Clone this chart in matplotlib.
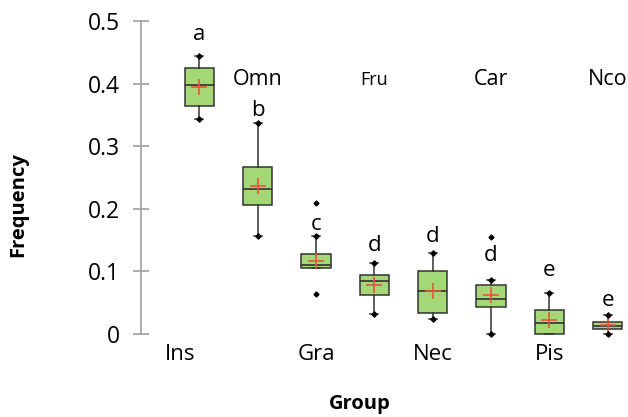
import matplotlib.pyplot as plt

plt.rcParams['font.family'] = ['Open Sans', 'DejaVu Sans']

groups = ['Ins', 'Omn', 'Gra', 'Fru', 'Nec', 'Car', 'Pis', 'Nco']
whislo = [0.343, 0.157, 0.105, 0.032, 0.024, 0.000, 0.000, 0.000]
q1 = [0.365, 0.206, 0.105, 0.063, 0.034, 0.043, 0.000, 0.0075]
med = [0.397, 0.232, 0.110, 0.084, 0.068, 0.056, 0.018, 0.013]
q3 = [0.425, 0.266, 0.128, 0.094, 0.101, 0.078, 0.039, 0.019]
whishi = [0.444, 0.337, 0.157, 0.114, 0.130, 0.087, 0.065, 0.031]
means = [0.395, 0.236, 0.117, 0.078, 0.069, 0.062, 0.022, 0.014]
fliers = [[], [], [0.210, 0.064], [], [], [0.155], [], []]
letters = ['a', 'b', 'c', 'd', 'd', 'd', 'e', 'e']
letter_y = [0.478, 0.357, 0.175, 0.141, 0.155, 0.125, 0.101, 0.053]

fig = plt.figure(figsize=(6.28, 4.17), dpi=100)
ax = fig.add_axes([141 / 628, 83 / 417, 487 / 628, 313 / 417])

stats = []
for i, g in enumerate(groups):
    stats.append(dict(label=g, whislo=whislo[i], q1=q1[i], med=med[i],
                      q3=q3[i], whishi=whishi[i], mean=means[i],
                      fliers=fliers[i]))

pos = list(range(1, len(groups) + 1))
bp = ax.bxp(stats, positions=pos, widths=0.5, patch_artist=True,
            showmeans=True, showfliers=True, capwidths=0.14,
            boxprops=dict(facecolor='#a4d877', edgecolor='#333333', linewidth=1.1),
            medianprops=dict(color='#333333', linewidth=1.2),
            whiskerprops=dict(color='#333333', linewidth=1.1),
            capprops=dict(color='#333333', linewidth=1.1),
            meanprops=dict(marker='+', markeredgecolor='#e8553a', markersize=11,
                           markeredgewidth=1.2),
            flierprops=dict(marker='D', markerfacecolor='black',
                            markeredgecolor='black', markersize=2.5))
for art in ax.get_children():
    art.set_clip_on(False)

# dots at whisker ends (Gra has no lower whisker)
dot_x = [p for i, p in enumerate(pos) if whislo[i] < q1[i]] + pos
dot_y = [w for i, w in enumerate(whislo) if w < q1[i]] + whishi
ax.scatter(dot_x, dot_y, marker='D', s=7, color='black', zorder=5, clip_on=False)

for x, t, y in zip(pos, letters, letter_y):
    ax.text(x, y, t, ha='center', va='center', fontsize=16)

# category labels, alternating below and above
for i, g in enumerate(groups):
    if i % 2 == 0:
        x = pos[i] - 0.33 if i == 0 else pos[i]
        ax.text(x, -0.032, g, ha='center', va='center', fontsize=16)
    else:
        fs = 13 if g == 'Fru' else 15.5
        ax.text(pos[i], 0.406, g, ha='center', va='center', fontsize=fs)

ax.set_xlim(0, 8.35)
ax.set_ylim(0, 0.5)
ax.set_yticks([0, 0.1, 0.2, 0.3, 0.4, 0.5])
ax.set_yticklabels(['0', '0.1', '0.2', '0.3', '0.4', '0.5'])
ax.tick_params(axis='y', direction='inout', length=12, width=1.3,
               color='#a6a6a6', labelsize=16.5, pad=9)
ax.set_xticks([])
for s in ['top', 'right', 'bottom']:
    ax.spines[s].set_visible(False)
ax.spines['left'].set_color('#a6a6a6')
ax.spines['left'].set_linewidth(1.3)

fig.text(18 / 628, 1 - 205 / 417, 'Frequency', rotation=90, ha='center',
         va='center', fontsize=14.5, fontweight='bold')
fig.text(360 / 628, 1 - 404 / 417, 'Group', ha='center', va='center',
         fontsize=14.5, fontweight='bold')

fig.savefig('out.png', dpi=100)
